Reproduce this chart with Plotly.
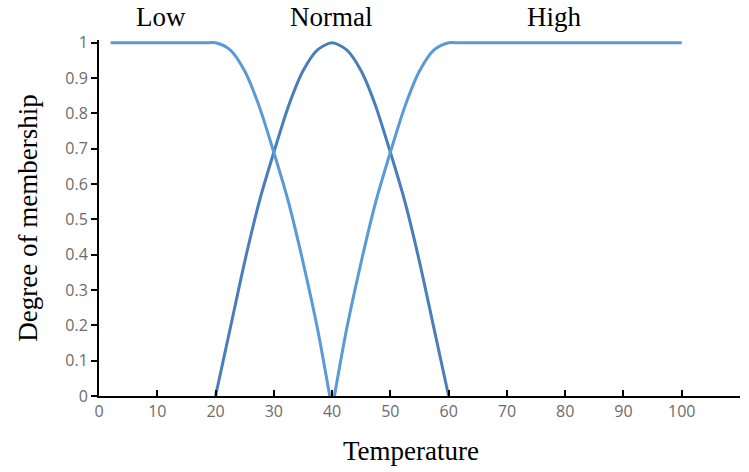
import plotly.graph_objects as go

# Temperature (x) and membership degree (y)
low_x = [2, 10, 18, 20, 22.5, 25, 27.5, 30, 32.5, 35, 37.5, 39.6]
low_y = [1, 1, 1, 1, 0.98, 0.92, 0.82, 0.69, 0.55, 0.38, 0.19, 0]

normal_x = [20, 22.5, 25, 27.5, 30, 32.5, 35, 37.5, 40,
            42.5, 45, 47.5, 50, 52.5, 55, 57.5, 60]
normal_y = [0, 0.19, 0.38, 0.55, 0.69, 0.82, 0.92, 0.98, 1,
            0.98, 0.92, 0.82, 0.69, 0.55, 0.38, 0.19, 0]

high_x = [40.4, 42.5, 45, 47.5, 50, 52.5, 55, 57.5, 60, 62, 80, 100]
high_y = [0, 0.19, 0.38, 0.55, 0.69, 0.82, 0.92, 0.98, 1, 1, 1, 1]

x_ticks = [0, 10, 20, 30, 40, 50, 60, 70, 80, 90, 100, 110]
x_labels = ["0", "10", "20", "30", "40", "50", "60", "70", "80", "90", "100", ""]
y_ticks = [0, 0.1, 0.2, 0.3, 0.4, 0.5, 0.6, 0.7, 0.8, 0.9, 1]
y_labels = ["0", "0.1", "0.2", "0.3", "0.4", "0.5", "0.6", "0.7", "0.8", "0.9", "1"]

labels = ["Low", "Normal", "High"]
label_x = [10.6, 39.8, 78.2]

light = "#5B9BD5"
dark = "#4A7EBB"
serif = "Liberation Serif"

fig = go.Figure()

fig.add_trace(go.Scatter(x=normal_x, y=normal_y, mode="lines", name="Normal",
                         line=dict(color=dark, width=3, shape="spline", smoothing=0.8)))
fig.add_trace(go.Scatter(x=low_x, y=low_y, mode="lines", name="Low",
                         line=dict(color=light, width=3, shape="spline", smoothing=0.8)))
fig.add_trace(go.Scatter(x=high_x, y=high_y, mode="lines", name="High",
                         line=dict(color=light, width=3, shape="spline", smoothing=0.8)))

for txt, lx in zip(labels, label_x):
    fig.add_annotation(x=lx, y=1.064, xref="x", yref="paper", text=txt,
                       showarrow=False, yanchor="middle", borderpad=0,
                       font=dict(family=serif, size=27, color="black"))

# x axis title placed as annotation (sits a bit left of plot centre)
fig.add_annotation(x=53.5, y=-0.155, xref="x", yref="paper", text="Temperature",
                   showarrow=False, yanchor="middle",
                   font=dict(family=serif, size=27, color="black"))

fig.update_layout(
    width=749, height=472,
    margin=dict(l=99, r=9, t=40, b=76, autoexpand=False),
    plot_bgcolor="white",
    paper_bgcolor="white",
    showlegend=False,
    xaxis=dict(
        range=[0, 110], automargin=False,
        tickvals=x_ticks, ticktext=x_labels,
        ticks="inside", ticklen=6, tickwidth=2, tickcolor="black",
        showline=True, linecolor="black", linewidth=2,
        showgrid=False, zeroline=False,
        tickfont=dict(family="Open Sans", size=16, color="#6b6b6b"),
    ),
    yaxis=dict(
        range=[0, 1.008], automargin=False,
        tickvals=y_ticks, ticktext=y_labels,
        ticks="outside", ticklen=6, tickwidth=2, tickcolor="black",
        showline=True, linecolor="black", linewidth=2,
        showgrid=False, zeroline=False,
        tickfont=dict(family="Open Sans", size=16, color="#6b6b6b"),
        title=dict(text="Degree of membership", standoff=20,
                   font=dict(family=serif, size=27, color="black")),
    ),
)

# drop the default 8px page margin so the figure sits at the window corner
fig.write_html("out.html", config={"displayModeBar": False},
               post_script="document.body.style.margin='0';")
